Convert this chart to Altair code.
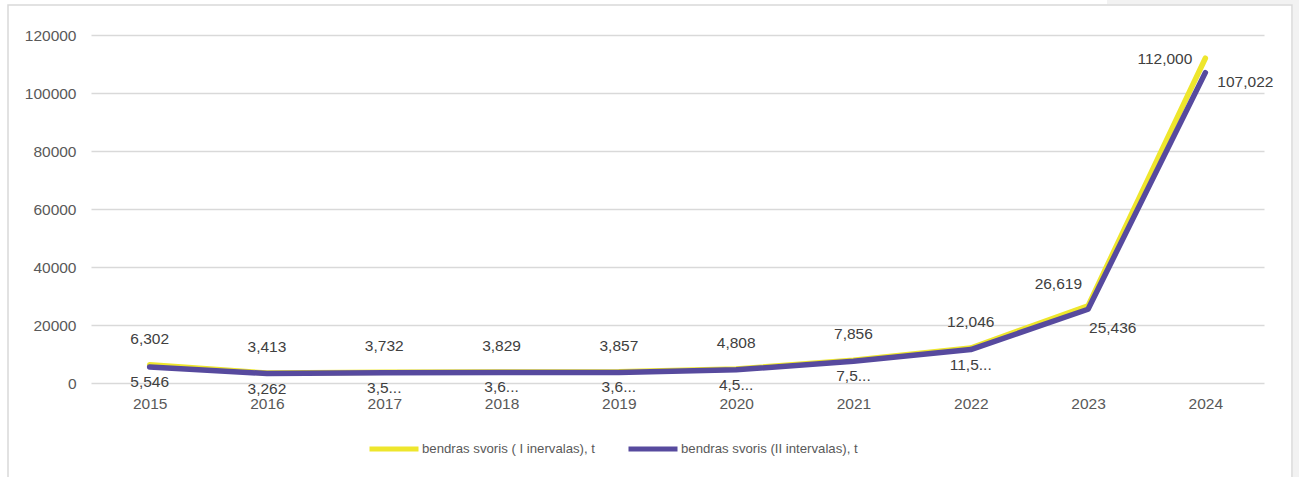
import json
import altair as alt
import pandas as pd

# Yearly totals for the two weight intervals (tonnes)
years = ["2015", "2016", "2017", "2018", "2019", "2020", "2021", "2022", "2023", "2024"]
series_names = ["bendras svoris ( I inervalas), t", "bendras svoris (II intervalas), t"]
weight_i = [6302, 3413, 3732, 3829, 3857, 4808, 7856, 12046, 26619, 112000]
weight_ii = [5546, 3262, 3550, 3640, 3640, 4550, 7520, 11540, 25436, 107022]
# Data labels of the second series as they are shown (some are cut short)
labels_ii = ["5,546", "3,262", "3,5...", "3,6...", "3,6...", "4,5...", "7,5...", "11,5...", "25,436", "107,022"]
y_ticks = [0, 20000, 40000, 60000, 80000, 100000, 120000]

line_colors = ["#EEE62C", "#574A9E"]
text_color = "#595959"
label_color = "#404040"
grid_color = "#D9D9D9"
font = "Liberation Sans"
fs = 15.5

rows = []
for s, (name, vals) in enumerate(zip(series_names, [weight_i, weight_ii])):
    for i, (yr, v) in enumerate(zip(years, vals)):
        lbl = f"{v:,}" if s == 0 else labels_ii[i]
        rows.append({"year": yr, "series": name, "value": v, "label": lbl, "s": s})
df = pd.DataFrame(rows)

W, H = 1173, 348
LEFT, TOP = 91, 35

x_enc = alt.X("year:N", sort=years, title=None,
              axis=alt.Axis(labelAngle=0, ticks=False, domain=False, labelPadding=13,
                            labelFontSize=fs, labelColor=text_color, labelFont=font))
y_enc = alt.Y("value:Q", title=None,
              scale=alt.Scale(domain=[0, 120000], nice=False),
              axis=alt.Axis(values=y_ticks, format="d", ticks=False, domain=False,
                            labelPadding=15, labelFontSize=fs, labelColor=text_color,
                            labelFont=font, gridColor=grid_color, gridWidth=1.5))

base = alt.Chart(df)

lines = base.mark_line(strokeWidth=5.5, strokeCap="round", strokeJoin="round").encode(
    x=x_enc,
    y=y_enc,
    color=alt.Color("series:N", sort=series_names,
                    scale=alt.Scale(domain=series_names, range=line_colors),
                    legend=alt.Legend(title=None, orient="none", direction="horizontal",
                                      legendX=276, legendY=387, symbolType="stroke",
                                      symbolSize=2401, symbolStrokeWidth=5,
                                      labelFontSize=13.2, labelColor=text_color, labelFont=font,
                                      labelOffset=1, labelLimit=0, columnPadding=23,
                                      padding=0)),
    order=alt.Order("s:Q"),
)


def labels(series_idx, years_sel, dx, dy, align):
    expr = f"datum.s == {series_idx} && indexof({json.dumps(years_sel)}, datum.year) >= 0"
    return base.transform_filter(expr).mark_text(
        fontSize=fs, font=font, color=label_color, dx=dx, dy=dy,
        align=align, baseline="middle").encode(
        x=alt.X("year:N", sort=years),
        y=alt.Y("value:Q"),
        text="label:N",
    )


early = years[:8]
text_layers = [
    labels(0, early, 0, -26, "center"),
    labels(1, early, 0, 15, "center"),
    labels(0, ["2023"], -6, -22, "right"),
    labels(1, ["2023"], 1, 19, "left"),
    labels(0, ["2024"], -13, 1, "right"),
    labels(1, ["2024"], 12, 9, "left"),
]

# Card outline and the grey strip around it
frame_df = pd.DataFrame({"k": [0]})
card = alt.Chart(frame_df).mark_rect(filled=False, stroke=grid_color, strokeWidth=1.5).encode(
    x=alt.value(8 - LEFT), x2=alt.value(1292 - LEFT),
    y=alt.value(5 - TOP), y2=alt.value(490 - TOP),
)
strip_top = alt.Chart(frame_df).mark_rect(fill="#F2F2F2").encode(
    x=alt.value(1107 - LEFT), x2=alt.value(1299 - LEFT),
    y=alt.value(0 - TOP), y2=alt.value(4.5 - TOP),
)
strip_right = alt.Chart(frame_df).mark_rect(fill="#F2F2F2").encode(
    x=alt.value(1293 - LEFT), x2=alt.value(1299 - LEFT),
    y=alt.value(0 - TOP), y2=alt.value(477 - TOP),
)

chart = alt.layer(strip_top, strip_right, card, lines, *text_layers).properties(
    width=W, height=H,
    autosize=alt.AutoSizeParams(type="none"),
    padding={"left": LEFT, "top": TOP, "right": 1299 - LEFT - W, "bottom": 477 - TOP - H},
    background="white",
).configure_view(stroke=None)

chart.save("out.html", embed_options={"renderer": "svg", "actions": False})
